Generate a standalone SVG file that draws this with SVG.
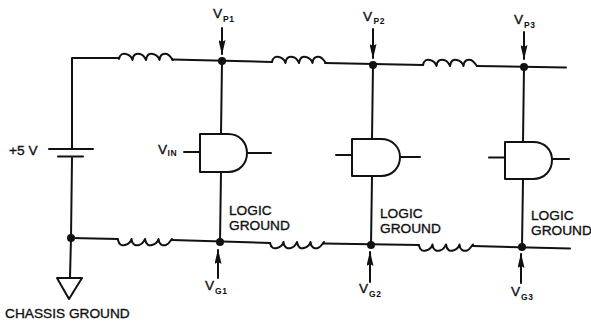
<svg xmlns="http://www.w3.org/2000/svg" width="591" height="322" viewBox="0 0 591 322">
<style>
.w{fill:none;stroke:#111;stroke-width:2;stroke-linejoin:round;stroke-linecap:round}
.d{fill:#111}
.t{font-family:"Liberation Sans",Arial,sans-serif;font-size:13.7px;fill:#111;stroke:#111;stroke-width:.35}
.s{font-family:"Liberation Sans",Arial,sans-serif;font-size:8.500px;font-weight:bold;fill:#111;letter-spacing:.6px}
</style>
<defs>
<marker id="a" markerUnits="userSpaceOnUse" markerWidth="15" markerHeight="7" refX="14" refY="3.5" orient="auto" viewBox="0 0 15 7"><path d="M0 0L15 3.5L0 7L2 3.5Z" fill="#111"/></marker>
<path id="lu" d="M0 0C1 -5 4 -6 7 -5C11 -4 13 -1 13.500 1C14 -5 18 -6 21 -5C25 -4 26 -1 27 1C28 -5 31 -6 34 -5C38 -4 40 -1 40.500 1C41 -5 45 -6 48 -5C51 -4 52 -1 54 1" class="w"/>
<path id="ld" d="M0 0C1 5 4 6 7 5C11 4 13 1 13.500 -1C14 5 18 6 21 5C25 4 26 1 27 -1C28 5 31 6 34 5C38 4 40 1 40.500 -1C41 5 45 6 48 5C51 4 52 1 54 -1" class="w"/>
</defs>
<g id="connectors">
<path class="w" d="M72 148V58L119 58M172 59.500L272 62M325 63L423 65M477 66L566 67.500"/>
<path class="w" d="M72 158L71 238L70 277"/>
<path class="w" d="M71 238L118 239M172 240L270 243M323 243.500L419 245M473 246L570 248.500"/>
<path class="w" d="M222 61L221 134M221 172L220 242M373 65L372 139M372 177L371 245M524 67L523 142M523 180L522 247"/>
<path class="w" marker-end="url(#a)" d="M222 28V54"/>
<path class="w" marker-end="url(#a)" d="M373 29V58"/>
<path class="w" marker-end="url(#a)" d="M524 32V59"/>
<path class="w" marker-end="url(#a)" d="M218 278V250"/>
<path class="w" marker-end="url(#a)" d="M370 282V252"/>
<path class="w" marker-end="url(#a)" d="M521 283V254"/>
</g>
<g id="inductors">
<use href="#lu" x="119" y="59"/><use href="#lu" x="272" y="62"/><use href="#lu" x="423" y="65"/>
<use href="#ld" x="118" y="240"/><use href="#ld" x="270" y="243"/><use href="#ld" x="419" y="245.500"/>
</g>
<g id="junctions">
<circle class="d" cx="222" cy="61" r="4"/><circle class="d" cx="373" cy="65" r="4"/><circle class="d" cx="524" cy="67" r="4"/>
<circle class="d" cx="71" cy="238" r="4"/><circle class="d" cx="220" cy="242" r="4"/><circle class="d" cx="371" cy="245" r="4"/><circle class="d" cx="522" cy="247" r="4"/>
</g>
<g id="battery">
<path class="w" d="M49 149L93 149M58 156.500L83 156.500"/>
<text class="t" x="9" y="155">+5 V</text>
</g>
<g id="chassis-ground">
<path class="w" d="M57 278L82 278L69 299Z"/>
<text class="t" x="5" y="318">CHASSIS GROUND</text>
</g>
<g id="gate1">
<path class="w" d="M200 134H228C240 134 247 143 247 153C247 163 240 172 228 172H200ZM184 152H200M247 153H271"/>
<text class="t" x="158" y="154">V</text><text class="s" x="167.500" y="155.500">IN</text>
<text class="t" x="229" y="215">LOGIC</text><text class="t" x="229" y="230">GROUND</text>
</g>
<g id="gate2">
<path class="w" d="M352 139H381C393 139 400 148 400 157C400 167 393 176 381 176H352ZM336 155H352M400 157H420"/>
<text class="t" x="380" y="218">LOGIC</text><text class="t" x="380" y="233">GROUND</text>
</g>
<g id="gate3">
<path class="w" d="M505 142H533C545 142 552 150 552 160C552 170 545 179 533 179H505ZM489 157.500H505M552 159H569"/>
<text class="t" x="531" y="220">LOGIC</text><text class="t" x="531" y="235">GROUND</text>
</g>
<g id="labels">
<text class="t" x="213" y="18">V</text><text class="s" x="223" y="21.500">P1</text>
<text class="t" x="363" y="21">V</text><text class="s" x="373.500" y="24">P2</text>
<text class="t" x="514" y="24">V</text><text class="s" x="524" y="27.500">P3</text>
<text class="t" x="205" y="290">V</text><text class="s" x="215" y="293.500">G1</text>
<text class="t" x="359" y="293">V</text><text class="s" x="369" y="297">G2</text>
<text class="t" x="511" y="296">V</text><text class="s" x="521" y="300">G3</text>
</g>
</svg>
